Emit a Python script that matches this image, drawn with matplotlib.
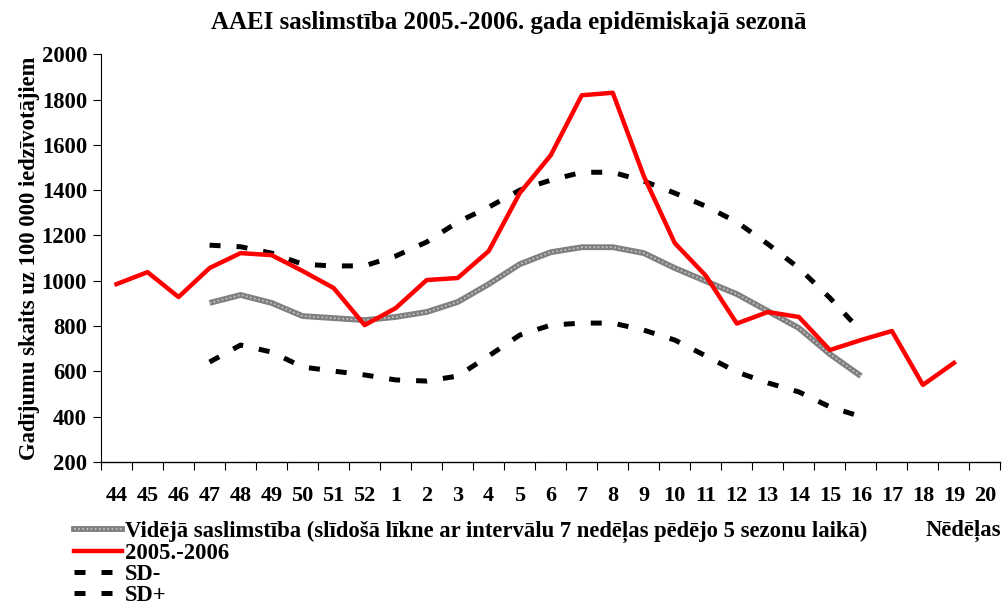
import numpy as np
import matplotlib
matplotlib.use("Agg")
import matplotlib.pyplot as plt
from matplotlib.lines import Line2D

plt.rcParams['font.family'] = ['Liberation Serif', 'DejaVu Serif']
plt.rcParams['font.weight'] = 'bold'

nan = np.nan

weeks = ['44', '45', '46', '47', '48', '49', '50', '51', '52', '1', '2', '3', '4', '5',
         '6', '7', '8', '9', '10', '11', '12', '13', '14', '15', '16', '17', '18', '19', '20']

season = [985, 1038, 928, 1056, 1122, 1113, 1043, 968, 804, 879, 1003, 1012, 1131, 1387,
          1554, 1819, 1830, 1462, 1166, 1022, 811, 862, 840, 694, 738, 778, 540, 637, nan]

average = [nan, nan, nan, 902, 937, 902, 844, 835, 826, 840, 862, 906, 985, 1073,
           1126, 1148, 1148, 1122, 1056, 998, 941, 866, 791, 676, 579, nan, nan, nan, nan]

sd_plus = [nan, nan, nan, 1157, 1150, 1122, 1073, 1065, 1066, 1109, 1171, 1259, 1325, 1400,
           1444, 1479, 1479, 1440, 1387, 1329, 1259, 1162, 1056, 924, 778, nan, nan, nan, nan]

sd_minus = [nan, nan, nan, 641, 716, 685, 619, 601, 584, 562, 557, 579, 668, 760,
            804, 813, 813, 782, 738, 668, 597, 549, 509, 443, 400, nan, nan, nan, nan]

x = np.arange(len(weeks))

fig = plt.figure(figsize=(10.05, 6.03), dpi=100)
ax = fig.add_axes([0.1005, 0.234, 0.895, 0.676])

# average line: gray body with lighter dotted texture
ax.plot(x, average, color='#7f7f7f', lw=4.2, solid_capstyle='butt', zorder=2)
ax.plot(x, average, color='#c8c8c8', lw=1.2, ls=(0, (1, 1.5)), zorder=2)
ax.plot(x, sd_minus, color='black', lw=3.6, ls=(0, (2.2, 3.2)), zorder=3)
ax.plot(x, sd_plus, color='black', lw=3.6, ls=(0, (2.2, 3.2)), zorder=3)
ax.plot(x, season, color='#ff0000', lw=3.2, zorder=4)

ax.set_xlim(-0.5, len(weeks) - 0.5)
ax.set_ylim(200, 2000)
ax.set_yticks(np.arange(200, 2001, 200))
ax.set_xticks(np.arange(-0.5, len(weeks), 1.0))
ax.set_xticklabels([])
ax.set_xticks(x, minor=True)
ax.set_xticklabels(weeks, minor=True, fontsize=16, fontweight='bold')
ax.tick_params(axis='x', which='major', direction='out', length=6, width=0.8)
ax.tick_params(axis='x', which='minor', length=0, pad=17)
ax.tick_params(axis='y', direction='out', length=6, width=0.8, labelsize=16.3, pad=4)
for lbl in ax.get_yticklabels():
    lbl.set_fontweight('bold')

ax.spines['top'].set_visible(False)
ax.spines['right'].set_visible(False)
ax.spines['left'].set_linewidth(0.8)
ax.spines['bottom'].set_linewidth(1.0)

ax.set_ylabel('Gadījumu skaits uz 100 000 iedzīvotājiem', fontsize=16.3, fontweight='bold', labelpad=1)
fig.text(0.506, 0.962, 'AAEI saslimstība 2005.-2006. gada epidēmiskajā sezonā',
         ha='center', va='center', fontsize=18, fontweight='bold')
fig.text(0.996, 0.119, 'Nēdēļas', ha='right', va='center', fontsize=16.3, fontweight='bold')

h_avg = (Line2D([], [], color='#7f7f7f', lw=4.2), Line2D([], [], color='#c8c8c8', lw=1.2, ls=(0, (1, 1.5))))
h_season = Line2D([], [], color='#ff0000', lw=3.2)
h_minus = Line2D([], [], color='black', lw=3.6, ls=(0, (2.2, 3.2)))
h_plus = Line2D([], [], color='black', lw=3.6, ls=(0, (2.2, 3.2)))
leg = fig.legend([h_avg, h_season, h_minus, h_plus],
                 ['Vidējā saslimstība (slīdošā līkne ar intervālu 7 nedēļas pēdējo 5 sezonu laikā)',
                  '2005.-2006', 'SD-', 'SD+'],
                 loc='upper left', bbox_to_anchor=(0.074, 0.136), frameon=False,
                 prop={'size': 16.3, 'weight': 'bold'}, handlelength=2.1, handletextpad=0.15,
                 labelspacing=0.0, borderpad=0, borderaxespad=0)

fig.savefig('out.png', dpi=100)
